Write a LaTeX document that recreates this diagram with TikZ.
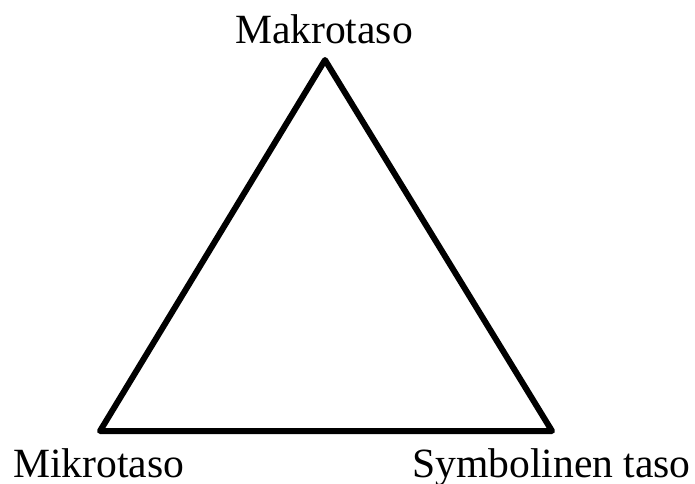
\documentclass[tikz,border=0pt]{standalone}
\usepackage{fontspec}
\setmainfont{Liberation Serif}
\begin{document}
\begin{tikzpicture}[x=1pt,y=-1pt,
  lbl/.style={inner sep=0pt,font=\fontsize{41.6}{48}\selectfont},
  tri/.style={line width=6pt,line join=round,line cap=round}]
\useasboundingbox[fill=white] (0,0) rectangle (695,483);
\coordinate (T) at (325,60);
\coordinate (L) at (100,431);
\coordinate (R) at (552,431);
\draw[tri] (T) -- (L) -- (R) -- cycle;
\node[lbl,anchor=base] (mak) at (324,43) {Makrotaso};
\node[lbl,anchor=base west] (mik) at (13,477) {Mikrotaso};
\node[lbl,anchor=base west] (sym) at (412,477) {Symbolinen taso};
\end{tikzpicture}
\end{document}
